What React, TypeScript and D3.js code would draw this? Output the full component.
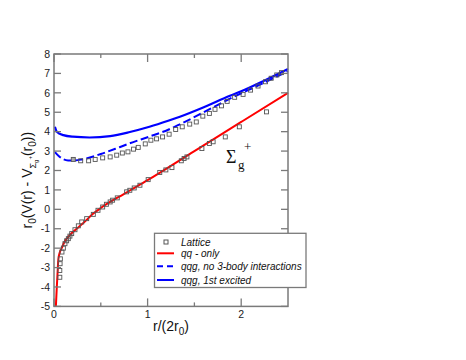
import React from 'react';
import * as d3 from 'd3';

// qq - only (ground state) curve
const qqOnly: [number, number][] = [
  [0.02, -5], [0.03, -4.0], [0.04, -3.1], [0.046, -2.6], [0.06, -2.25], [0.082, -2.0],
  [0.11, -1.7], [0.135, -1.52], [0.17, -1.32], [0.206, -1.15], [0.31, -0.72], [0.42, -0.22],
  [0.5, 0.07], [0.75, 0.8], [1.0, 1.5], [1.5, 3.0], [2.0, 4.5], [2.5, 6.0],
];

// qqg, no 3-body interactions
const qqgNo3Body: [number, number][] = [
  [0.01, 2.95], [0.05, 2.75], [0.1, 2.58], [0.15, 2.52], [0.22, 2.52], [0.3, 2.57],
  [0.5, 2.85], [0.7, 3.2], [0.81, 3.4], [1.02, 3.75], [1.22, 4.1], [1.345, 4.38],
  [1.6, 5.0], [1.88, 5.7], [2.2, 6.42], [2.5, 7.12],
];

// qqg, 1st excited
const qqgExcited: [number, number][] = [
  [0.01, 4.25], [0.03, 4.0], [0.1, 3.82], [0.2, 3.74], [0.38, 3.7], [0.6, 3.77],
  [0.81, 3.98], [1.02, 4.25], [1.22, 4.56], [1.345, 4.77], [1.6, 5.26], [1.88, 5.85],
  [2.0, 6.08], [2.25, 6.64], [2.5, 7.23],
];

// Lattice data, ground state branch
const latticeGround: [number, number][] = [
  [0.062, -3.5], [0.062, -3.15], [0.065, -2.8], [0.068, -2.55], [0.085, -2.2], [0.1, -2.0],
  [0.117, -1.77], [0.135, -1.62], [0.153, -1.51], [0.17, -1.38], [0.189, -1.25], [0.224, -1.05],
  [0.26, -0.85], [0.296, -0.65], [0.349, -0.48], [0.42, -0.26], [0.47, -0.05], [0.52, 0.12],
  [0.56, 0.26], [0.6, 0.38], [0.626, 0.47], [0.676, 0.59], [0.776, 0.9], [0.81, 0.98],
  [0.857, 1.1], [0.918, 1.24], [1.006, 1.53], [1.13, 1.9], [1.195, 2.03], [1.26, 2.15],
  [1.36, 2.5], [1.39, 2.62], [1.42, 2.7], [1.58, 3.13], [1.66, 3.39], [1.7, 3.48],
  [1.83, 3.73], [1.98, 4.25], [2.27, 5.02],
];

// Lattice data, hybrid (gluon-excited) branch
const latticeHybrid: [number, number][] = [
  [0.206, 2.57], [0.285, 2.5], [0.37, 2.5], [0.44, 2.57], [0.52, 2.65], [0.6, 2.7],
  [0.67, 2.79], [0.73, 2.9], [0.79, 2.96], [0.85, 3.1], [0.9, 3.19], [0.975, 3.37],
  [1.035, 3.56], [1.096, 3.63], [1.16, 3.73], [1.23, 3.87], [1.3, 4.11], [1.37, 4.25],
  [1.45, 4.39], [1.52, 4.5], [1.59, 4.8], [1.66, 4.94], [1.72, 5.15], [1.79, 5.33],
  [1.85, 5.56], [1.93, 5.77], [2.02, 5.92], [2.1, 6.14], [2.18, 6.35], [2.26, 6.57],
  [2.32, 6.75], [2.38, 6.92], [2.43, 7.04],
];

const yTicks = [-5, -4, -3, -2, -1, 0, 1, 2, 3, 4, 5, 6, 7, 8];
const xMajorTicks = [0, 1, 2];
const xMinorTicks = [0.5, 1.5];
const legendLabels = ['Lattice', 'qq - only', 'qqg, no 3-body interactions', 'qqg, 1st excited'];

const W = 466;
const H = 360;
const L = 54, R = 288, T = 54, B = 306.4;
const AX = '#7a7a7a';
const FONT = '"Liberation Sans", Arial, Helvetica, sans-serif';

export default function App() {
  const x = d3.scaleLinear().domain([0, 2.5]).range([L, R]);
  const y = d3.scaleLinear().domain([-5, 8]).range([B, T]);
  const line = d3.line<[number, number]>().x(d => x(d[0])).y(d => y(d[1])).curve(d3.curveMonotoneX);
  const sq = 4;
  const legY = [242, 253.3, 266.3, 280];

  return (
    <svg width={W} height={H} style={{ position: 'absolute', left: 0, top: 0, background: '#fff' }}>
      <rect x={0} y={0} width={W} height={H} fill="#fff" />
      {/* curves */}
      <path d={line(qqOnly) || ''} fill="none" stroke="#ff0000" strokeWidth={2} />
      <path d={line(qqgNo3Body) || ''} fill="none" stroke="#0000ff" strokeWidth={2} strokeDasharray="8,3.5" />
      <path d={line(qqgExcited) || ''} fill="none" stroke="#0000ff" strokeWidth={2.2} />
      {/* lattice */}
      {latticeGround.concat(latticeHybrid).map((d, i) => (
        <rect key={i} x={x(d[0]) - sq / 2} y={y(d[1]) - sq / 2} width={sq} height={sq}
          fill={i === latticeGround.length ? '#aaa' : 'none'} stroke="#555" strokeWidth={0.9} />
      ))}
      {/* frame */}
      <rect x={L} y={T} width={R - L} height={B - T} fill="none" stroke={AX} strokeWidth={1.5} />
      {yTicks.map(t => (
        <g key={'y' + t}>
          <line x1={L} x2={L + 7} y1={y(t)} y2={y(t)} stroke={AX} strokeWidth={1.3} />
          <line x1={R - 7} x2={R} y1={y(t)} y2={y(t)} stroke={AX} strokeWidth={1.3} />
          <text x={L - 4} y={y(t)} dy="0.35em" textAnchor="end" fontFamily={FONT} fontSize={10.5} fill="#222">{t}</text>
        </g>
      ))}
      {xMajorTicks.map(t => (
        <g key={'x' + t}>
          <line x1={x(t)} x2={x(t)} y1={B} y2={B - 8} stroke={AX} strokeWidth={1.3} />
          <line x1={x(t)} x2={x(t)} y1={T} y2={T + 8} stroke={AX} strokeWidth={1.3} />
          <text x={x(t)} y={B + 12} textAnchor="middle" fontFamily={FONT} fontSize={10.5} fill="#222">{t}</text>
        </g>
      ))}
      {xMinorTicks.map(t => (
        <g key={'m' + t}>
          <line x1={x(t)} x2={x(t)} y1={B} y2={B - 4} stroke={AX} strokeWidth={1.3} />
          <line x1={x(t)} x2={x(t)} y1={T} y2={T + 4} stroke={AX} strokeWidth={1.3} />
        </g>
      ))}
      {/* axis titles */}
      <text x={171} y={331} textAnchor="middle" fontFamily={FONT} fontSize={14} fill="#111">
        r/(2r<tspan fontSize={10} dy={4}>0</tspan><tspan dy={-4}>)</tspan>
      </text>
      <text transform={`translate(31.5,${(T + B) / 2}) rotate(-90)`} textAnchor="middle" fontFamily={FONT} fontSize={14} fill="#111">
        r<tspan fontSize={10} dy={4}>0</tspan>
        <tspan dy={-4}>(V(r) - V</tspan>
        <tspan fontSize={9} dy={4}>Σ</tspan>
        <tspan fontSize={6} dy={2}>g</tspan>
        <tspan fontSize={6} dy={-6}>+</tspan>
        <tspan dy={0}>(r</tspan>
        <tspan fontSize={10} dy={4}>0</tspan>
        <tspan dy={-4}>))</tspan>
      </text>
      {/* Sigma_g^+ annotation */}
      <text x={226} y={163} fontFamily='"Liberation Serif", "Times New Roman", serif' fontSize={18} fill="#111">Σ</text>
      <text x={238} y={169} fontFamily='"Liberation Serif", "Times New Roman", serif' fontSize={13} fill="#111">g</text>
      <text x={244} y={151} fontFamily='"Liberation Serif", "Times New Roman", serif' fontSize={13} fill="#111">+</text>
      {/* legend */}
      <rect x={154.5} y={233.3} width={151.5} height={54.2} fill="#fff" stroke={AX} strokeWidth={1.3} />
      <rect x={166 - 2} y={legY[0] - 2} width={4} height={4} fill="none" stroke="#555" strokeWidth={1} />
      <line x1={157} x2={174} y1={legY[1]} y2={legY[1]} stroke="#ff0000" strokeWidth={2} />
      <line x1={157} x2={174} y1={legY[2]} y2={legY[2]} stroke="#0000ff" strokeWidth={2} strokeDasharray="6,4" />
      <line x1={157} x2={174} y1={legY[3]} y2={legY[3]} stroke="#0000ff" strokeWidth={2} />
      {legendLabels.map((s, i) => (
        <text key={s} x={181} y={legY[i]} dy="0.35em" fontFamily={FONT} fontStyle="italic" fontSize={10} fill="#111">{s}</text>
      ))}
    </svg>
  );
}
